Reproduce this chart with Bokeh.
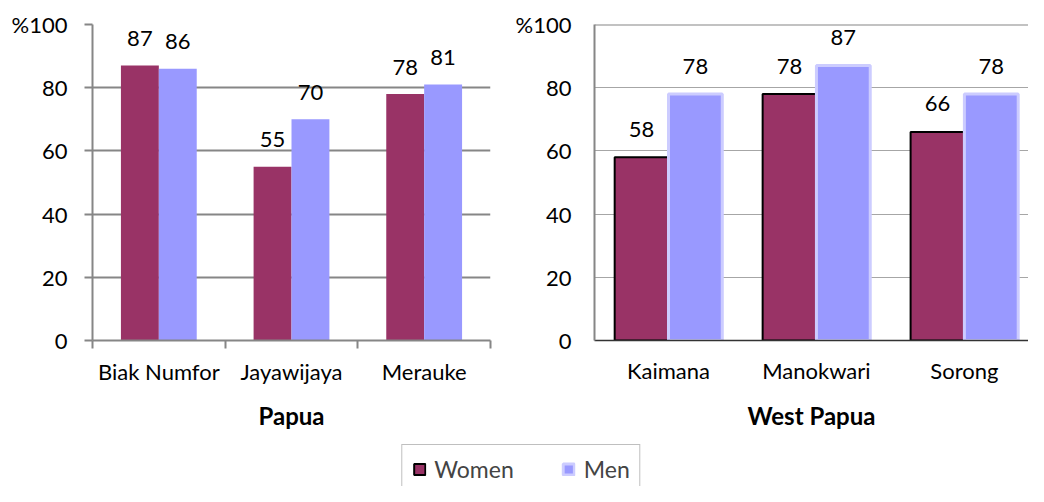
from bokeh.plotting import figure
from bokeh.models import FixedTicker, Range1d, Legend, LegendItem, Span
from bokeh.layouts import column, row
from bokeh.embed import file_html
from bokeh.resources import INLINE
from bokeh.core.properties import value

# ---------------- data ----------------
papua_districts = ["Biak Numfor", "Jayawijaya", "Merauke"]
papua_women = [87, 55, 78]
papua_men = [86, 70, 81]

wp_districts = ["Kaimana", "Manokwari", "Sorong"]
wp_women = [58, 78, 66]
wp_men = [78, 87, 78]

y_ticks = [0, 20, 40, 60, 80, 100]
y_tick_labels = ["0", "20", "40", "60", "80", "%100"]

series_names = ["Women", "Men"]

# ---------------- style ----------------
WOMEN = "#993366"
MEN = "#9999FF"
MEN_EDGE = "#CCCCFF"
GRAY = "#868686"
FONT = "Lato"
FS = "22px"
TITLE_FS = "24px"


def base_fig(width, height, left, right, top, bottom, x_end):
    p = figure(width=width, height=height, output_backend="svg",
               toolbar_location=None, tools="",
               x_range=Range1d(0.5, x_end), y_range=Range1d(0, 100),
               min_border_left=left, min_border_right=right,
               min_border_top=top, min_border_bottom=bottom)
    p.outline_line_color = None
    p.background_fill_color = "white"
    p.border_fill_color = "white"
    p.xgrid.visible = False
    p.ygrid.ticker = FixedTicker(ticks=y_ticks)
    p.yaxis.ticker = FixedTicker(ticks=y_ticks)
    p.yaxis.major_label_overrides = {t: l for t, l in zip(y_ticks, y_tick_labels)}
    for ax in (p.xaxis, p.yaxis):
        ax.major_label_text_font = FONT
        ax.major_label_text_font_size = FS
        ax.major_label_text_color = "black"
        ax.minor_tick_out = 0
        ax.minor_tick_in = 0
        ax.major_tick_in = 0
    p.yaxis.minor_tick_line_color = None
    p.xaxis.axis_label_text_font = FONT
    p.xaxis.axis_label_text_font_size = TITLE_FS
    p.xaxis.axis_label_text_font_style = "bold"
    p.xaxis.axis_label_text_color = "black"
    return p


def add_bars(p, cats, women, men, bw, women_line, women_lw, men_line, men_lw, label_off):
    pos = list(range(1, len(cats) + 1))
    wx = [c - bw / 2 for c in pos]
    mx = [c + bw / 2 for c in pos]
    p.vbar(x=wx, top=women, bottom=0, width=bw, fill_color=WOMEN,
           line_color=women_line, line_width=women_lw)
    p.vbar(x=mx, top=men, bottom=0, width=bw, fill_color=MEN,
           line_color=men_line, line_width=men_lw)
    p.text(x=wx + mx, y=women + men, text=[str(v) for v in women + men],
           text_align="center", text_baseline="alphabetic", y_offset=label_off,
           text_font=value(FONT), text_font_size=FS, text_color="black")
    p.xaxis.ticker = FixedTicker(ticks=pos, minor_ticks=[c - 0.5 for c in pos] + [pos[-1] + 0.5])
    p.xaxis.major_label_overrides = {c: n for c, n in zip(pos, cats)}


ROW_H = 440

# ---------------- Papua (left) ----------------
left = base_fig(512, ROW_H, 92, 22, 24, ROW_H - 340, 3.5)
add_bars(left, papua_districts, papua_women, papua_men, 1 / 3.5,
         None, 0, None, 0, -27)
left.ygrid.grid_line_color = GRAY
left.ygrid.grid_line_width = 2
left.yaxis.axis_line_color = GRAY
left.yaxis.axis_line_width = 2
left.yaxis.major_tick_line_color = GRAY
left.yaxis.major_tick_line_width = 2
left.yaxis.major_tick_out = 8
left.yaxis.major_label_standoff = 17
left.xaxis.axis_line_color = GRAY
left.xaxis.axis_line_width = 2
left.xaxis.major_tick_out = 0
left.xaxis.minor_tick_line_color = GRAY
left.xaxis.minor_tick_line_width = 2
left.xaxis.minor_tick_out = 8
left.xaxis.major_label_standoff = 9
left.xaxis.axis_label = "Papua"
left.xaxis.axis_label_standoff = 13

# ---------------- West Papua (right) ----------------
right = base_fig(516, ROW_H, 81, 0, 24, ROW_H - 340, 0.5 + 435 / 148.3)
add_bars(right, wp_districts, wp_women, wp_men, 1 / 2.75,
         "black", 2, MEN_EDGE, 3, -28)
right.ygrid.grid_line_color = "#A6A6A6"
right.ygrid.grid_line_width = 1
right.add_layout(Span(location=100, dimension="width", line_color=GRAY, line_width=2))
right.yaxis.axis_line_color = GRAY
right.yaxis.axis_line_width = 2
right.yaxis.major_tick_line_color = None
right.yaxis.major_tick_out = 0
right.yaxis.major_label_standoff = 23
right.xaxis.axis_line_color = "#333333"
right.xaxis.axis_line_width = 1.5
right.xaxis.major_tick_line_color = None
right.xaxis.minor_tick_line_color = None
right.xaxis.major_tick_out = 0
right.xaxis.major_label_standoff = 16
right.xaxis.axis_label = "West Papua"
right.xaxis.axis_label_standoff = 14

# ---------------- legend ----------------
leg = figure(width=1028, height=486 - ROW_H, output_backend="svg", toolbar_location=None, tools="",
             x_range=Range1d(0, 1), y_range=Range1d(0, 1),
             min_border_left=14, min_border_right=0, min_border_top=0, min_border_bottom=0)
leg.axis.visible = False
leg.grid.visible = False
leg.outline_line_color = None
# tiny swatch-source bars, hidden underneath the legend's opaque background
rw = leg.vbar(x=[0.5], bottom=[0.3], top=[0.35], width=0.005, fill_color=WOMEN,
              line_color="black", line_width=2)
rm = leg.vbar(x=[0.5], bottom=[0.3], top=[0.35], width=0.005, fill_color=MEN,
              line_color=MEN_EDGE, line_width=3)
legend = Legend(items=[LegendItem(label=series_names[0], renderers=[rw]),
                       LegendItem(label=series_names[1], renderers=[rm])],
                location="top_center", orientation="horizontal", margin=4,
                padding=10, spacing=48, label_standoff=8,
                glyph_width=14, glyph_height=14,
                label_text_font=FONT, label_text_font_size="23px",
                border_line_color="#808080", border_line_width=1,
                background_fill_color="white", background_fill_alpha=1.0)
leg.add_layout(legend, "center")

layout = column(row(left, right), leg)
open("out.html", "w").write(file_html(layout, INLINE))
